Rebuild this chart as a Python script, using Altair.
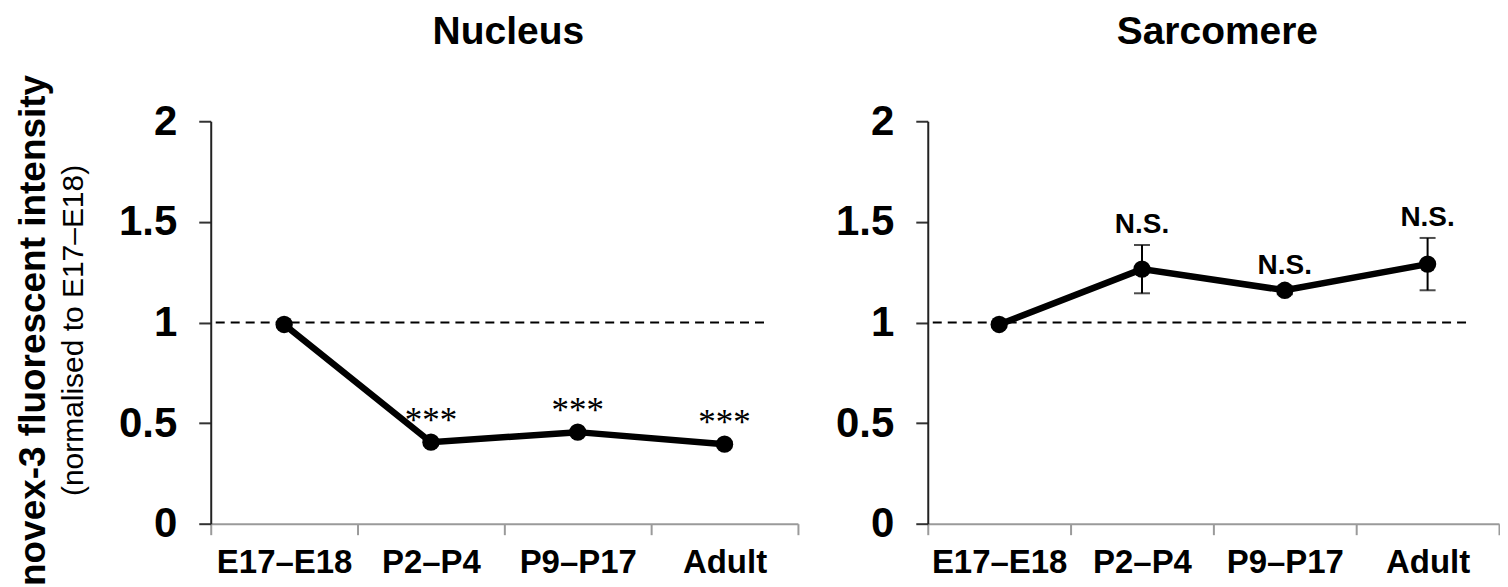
import altair as alt
import pandas as pd

# ---- data ----
stages = ["E17–E18", "P2–P4", "P9–P17", "Adult"]
nucleus_mean = [0.99, 0.405, 0.455, 0.395]
nucleus_err = [0.01, 0.01, 0.01, 0.01]
nucleus_sig = ["", "***", "***", "***"]
sarcomere_mean = [0.99, 1.265, 1.16, 1.29]
sarcomere_err = [0.01, 0.12, 0.02, 0.13]
sarcomere_sig = ["", "N.S.", "N.S.", "N.S."]
y_ticks = [0, 0.5, 1, 1.5, 2]
reference_level = [1.0]
y_title_main = ["novex-3 fluorescent intensity"]
y_title_sub = ["(normalised to E17–E18)"]
panel_titles = ["Nucleus", "Sarcomere"]

SANS = "Liberation Sans"
SERIF = "Liberation Serif"
H = 403


def make_df(mean, err, sig):
    return pd.DataFrame({
        "stage": stages,
        "mean": mean,
        "lo": [m - e for m, e in zip(mean, err)],
        "hi": [m + e for m, e in zip(mean, err)],
        "sig": sig,
    })


def panel(df, title, width, sig_font, sig_size, sig_weight, sig_dy, with_ytitle):
    xenc = alt.X(
        "stage:N", sort=stages,
        scale=alt.Scale(type="band", paddingInner=0, paddingOuter=0),
        axis=alt.Axis(title=None, labelAngle=0, labelFont=SANS, labelFontSize=33,
                      labelFontWeight="bold", labelColor="black", labelPadding=12,
                      tickBand="extent", tickSize=11, tickColor="#9a9a9a", tickWidth=2,
                      domainColor="#9a9a9a", domainWidth=2),
    )
    yscale = alt.Scale(domain=[0, 2], nice=False, zero=True)
    yaxis = alt.Axis(values=y_ticks, labelExpr="'' + datum.value", title=None,
                     labelFont=SANS, labelFontSize=42, labelFontWeight="bold",
                     labelColor="black", labelPadding=22, tickSize=12,
                     tickColor="#333333", tickWidth=2, domainColor="#222222",
                     domainWidth=2, grid=False)

    base = alt.Chart(df)
    ref = alt.Chart(pd.DataFrame({"level": reference_level})).mark_rule(
        color="black", strokeDash=[9, 6], strokeWidth=2
    ).encode(y=alt.Y("level:Q", scale=yscale, axis=yaxis),
             x=alt.value(5), x2=alt.value(width - 29))
    line = base.mark_line(color="black", strokeWidth=6.5).encode(
        x=xenc, y=alt.Y("mean:Q", scale=yscale, axis=yaxis))
    err = base.mark_rule(color="black", strokeWidth=2).encode(
        x=xenc, y=alt.Y("lo:Q", scale=yscale, axis=yaxis), y2="hi:Q")
    cap_hi = base.mark_tick(color="black", thickness=2, size=16, orient="horizontal").encode(
        x=xenc, y=alt.Y("hi:Q", scale=yscale, axis=yaxis))
    cap_lo = base.mark_tick(color="black", thickness=2, size=16, orient="horizontal").encode(
        x=xenc, y=alt.Y("lo:Q", scale=yscale, axis=yaxis))
    pts = base.mark_point(filled=True, color="black", opacity=1, size=300, shape="circle").encode(
        x=xenc, y=alt.Y("mean:Q", scale=yscale, axis=yaxis))
    sig = base.mark_text(font=sig_font, fontSize=sig_size, fontWeight=sig_weight,
                         color="black", baseline="alphabetic", dy=sig_dy).encode(
        x=xenc, y=alt.Y("hi:Q", scale=yscale, axis=yaxis), text="sig:N")
    ttl = alt.Chart(pd.DataFrame({"t": [title]})).mark_text(
        font=SANS, fontSize=39, fontWeight="bold", color="black",
        align="center", baseline="alphabetic"
    ).encode(x=alt.value(width / 2 + 4), y=alt.value(-77), text="t:N")

    layers = [ref, err, cap_hi, cap_lo, line, pts, sig, ttl]
    if with_ytitle:
        t1 = alt.Chart(pd.DataFrame({"t": y_title_main})).mark_text(
            font=SANS, fontSize=37, fontWeight="bold", color="black", angle=270,
            align="center", baseline="alphabetic"
        ).encode(x=alt.value(-166), y=alt.value(H / 2 + 8), text="t:N")
        t2 = alt.Chart(pd.DataFrame({"t": y_title_sub})).mark_text(
            font=SANS, fontSize=30, fontWeight="normal", color="black", angle=270,
            align="center", baseline="alphabetic"
        ).encode(x=alt.value(-128), y=alt.value(H / 2 + 8), text="t:N")
        layers += [t1, t2]

    return alt.layer(*layers).properties(width=width, height=H)


nuc = panel(make_df(nucleus_mean, nucleus_err, nucleus_sig), panel_titles[0], 588,
            SERIF, 35, "normal", -8, True)
sar = panel(make_df(sarcomere_mean, sarcomere_err, sarcomere_sig), panel_titles[1], 572,
            SANS, 28, "bold", -12, False)

chart = alt.hconcat(nuc, sar, spacing=36).properties(
    padding={"left": 6, "top": 5, "right": 0, "bottom": 0},
    background="white",
).configure_view(stroke=None)

chart.save("out.html", embed_options={"renderer": "svg", "actions": False})
